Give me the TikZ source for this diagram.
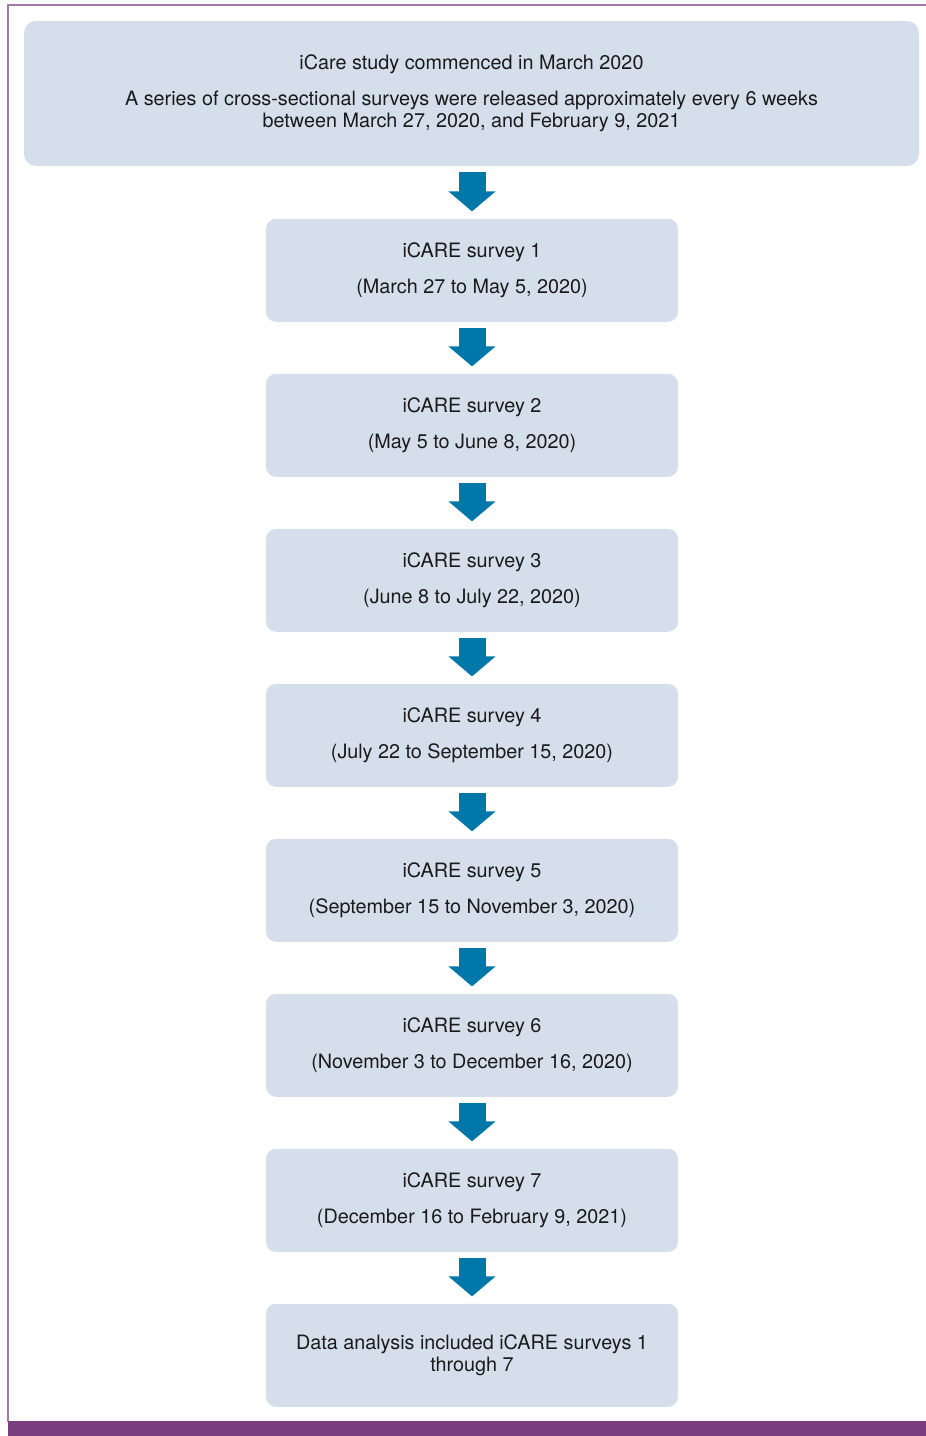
\documentclass[tikz,border=0pt]{standalone}
\usepackage{fontspec}
\setmainfont{TeX Gyre Heros}
\usetikzlibrary{positioning,arrows.meta}
\definecolor{boxblue}{HTML}{D5DFEC}
\definecolor{arrowblue}{HTML}{0077A9}
\definecolor{framepurple}{HTML}{7B3F80}
\definecolor{textgrey}{HTML}{1A1A1A}
\tikzset{
        node distance=25.6pt,
        every node/.style={font=\fontsize{9.9}{11}\selectfont, text=textgrey},
        introbox/.style={fill=boxblue, rounded corners=6pt, minimum width=447.5pt, minimum height=72.5pt, align=center, inner sep=0pt},
        surveybox/.style={fill=boxblue, rounded corners=5pt, minimum width=206pt, minimum height=51.5pt, align=center, inner sep=0pt},
        flowarrow/.style={draw=arrowblue, line width=13.5pt, shorten <=3pt, shorten >=3.5pt,
          -{Triangle[width=23pt, length=10pt, fill=arrowblue]}},
        frameline/.style={draw=framepurple!70!white, line width=0.6pt}
          }

\begin{document}
\begin{tikzpicture}
        \useasboundingbox (0,0) rectangle (463pt,-718pt);
        % frame
        \draw[frameline] (463pt,-2.5pt) -- (4pt,-2.5pt) -- (4pt,-711pt);
        \fill[framepurple] (4pt,-710.5pt) rectangle (463pt,-718pt);

        \node[introbox] (intro) at (235.75pt,-46.75pt)
          {iCare study commenced in March 2020\\[7pt]
           A series of cross-sectional surveys were released approximately every 6 weeks\\
           between March 27, 2020, and February 9, 2021};
        \node[surveybox, below=26pt of intro.south, anchor=north, xshift=0.25pt] (survey1)
          {iCARE survey 1\\[7pt](March 27 to May 5, 2020)};
        \node[surveybox, below=of survey1] (survey2)
          {iCARE survey 2\\[7pt](May 5 to June 8, 2020)};
        \node[surveybox, below=of survey2] (survey3)
          {iCARE survey 3\\[7pt](June 8 to July 22, 2020)};
        \node[surveybox, below=of survey3] (survey4)
          {iCARE survey 4\\[7pt](July 22 to September 15, 2020)};
        \node[surveybox, below=of survey4] (survey5)
          {iCARE survey 5\\[7pt](September 15 to November 3, 2020)};
        \node[surveybox, below=of survey5] (survey6)
          {iCARE survey 6\\[7pt](November 3 to December 16, 2020)};
        \node[surveybox, below=of survey6] (survey7)
          {iCARE survey 7\\[7pt](December 16 to February 9, 2021)};
        \node[surveybox, below=of survey7] (analysis)
          {Data analysis included iCARE surveys 1\\through 7};

        % arrows
        \draw[flowarrow] (survey1.north |- intro.south) -- (survey1.north);
        \draw[flowarrow] (survey1) -- (survey2);
        \draw[flowarrow] (survey2) -- (survey3);
        \draw[flowarrow] (survey3) -- (survey4);
        \draw[flowarrow] (survey4) -- (survey5);
        \draw[flowarrow] (survey5) -- (survey6);
        \draw[flowarrow] (survey6) -- (survey7);
        \draw[flowarrow] (survey7) -- (analysis);
\end{tikzpicture}
\end{document}
